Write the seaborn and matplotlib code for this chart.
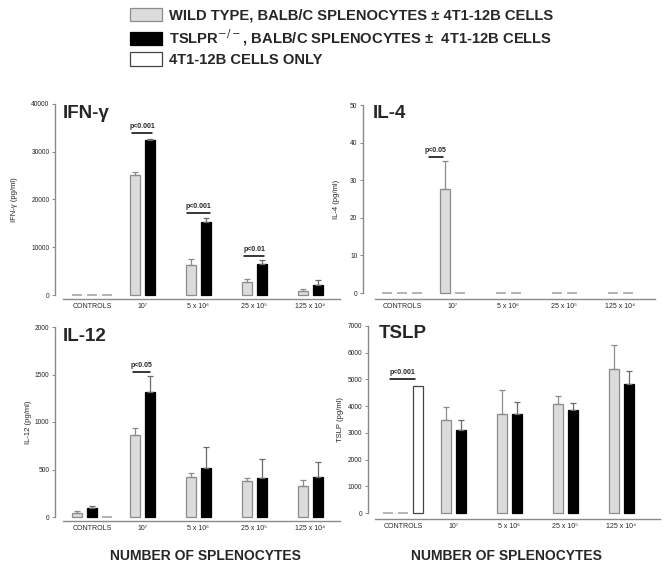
import matplotlib.pyplot as plt
import numpy as np
import pandas as pd
import seaborn as sns
from matplotlib.patches import Patch

W, H = 664, 571

GROUPS = ["CONTROLS", "10\u2077", "5 x 10\u2076", "25 x 10\u2075", "125 x 10\u2074"]
SERIES = ["wt", "ko", "tumor"]
LEGEND_LABELS = [
    "WILD TYPE, BALB/C SPLENOCYTES \u00b1 4T1-12B CELLS",
    "TSLPR$^{-/-}$, BALB/C SPLENOCYTES \u00b1  4T1-12B CELLS",
    "4T1-12B CELLS ONLY",
]

# means and upper error (pg/ml); controls group also has the "4T1 only" bar
ifn_wt = [0, 25130, 6280, 2650, 910]
ifn_wt_err = [0, 700, 1190, 630, 280]
ifn_ko = [0, 32460, 15360, 6490, 2090]
ifn_ko_err = [0, 280, 700, 840, 1050]
ifn_tumor = 0

il4_wt = [0, 27.7, 0, 0, 0]
il4_wt_err = [0, 7.5, 0, 0, 0]
il4_ko = [0, 0, 0, 0, 0]
il4_ko_err = [0, 0, 0, 0, 0]
il4_tumor = 0

il12_wt = [46, 863, 423, 377, 327]
il12_wt_err = [14, 77, 42, 38, 60]
il12_ko = [95, 1313, 521, 412, 423]
il12_ko_err = [18, 176, 211, 194, 158]
il12_tumor = 0

tslp_wt = [0, 3469, 3719, 4094, 5404]
tslp_wt_err = [0, 499, 873, 274, 873]
tslp_ko = [0, 3095, 3694, 3844, 4817]
tslp_ko_err = [0, 399, 462, 275, 487]
tslp_tumor = 4742

CENTERS = [0, 0.9, 1.9, 2.9, 3.9]

# significance bars: (x0, x1, y, label)
ifn_sig = [
    (CENTERS[1] - 0.18, CENTERS[1] + 0.18, 33900, "p<0.001"),
    (CENTERS[2] - 0.2, CENTERS[2] + 0.2, 17200, "p<0.001"),
    (CENTERS[3] - 0.18, CENTERS[3] + 0.18, 8200, "p<0.01"),
]
il4_sig = [(CENTERS[1] - 0.42, CENTERS[1] - 0.17, 36.2, "p<0.05")]
il12_sig = [(CENTERS[1] - 0.16, CENTERS[1] + 0.14, 1526, "p<0.05")]
tslp_sig = [(CENTERS[0] - 0.23, CENTERS[0] + 0.22, 5016, "p<0.001")]

PALETTE = {"wt": "#dcdcdc", "ko": "#000000", "tumor": "#ffffff"}
EDGES = {"wt": "#8c8c8c", "ko": "#000000", "tumor": "#444444"}
ERRC = {"wt": "#8c8c8c", "ko": "#6a6a6a", "tumor": "#444444"}
AXC = "#8a8a8a"


def panel_frame(wt, wt_err, ko, ko_err, tumor):
    rows = []
    for i, c in enumerate(CENTERS):
        dw, dk = (-0.27, 0.0) if i == 0 else (-0.135, 0.135)
        rows.append((round(c + dw, 4), wt[i], wt_err[i], "wt"))
        rows.append((round(c + dk, 4), ko[i], ko_err[i], "ko"))
    rows.append((round(CENTERS[0] + 0.27, 4), tumor, 0, "tumor"))
    return pd.DataFrame(rows, columns=["pos", "value", "err", "series"])


sns.set_style("ticks")
plt.rcParams["font.family"] = ["Liberation Sans", "DejaVu Sans"]

fig = plt.figure(figsize=(W / 100, H / 100), dpi=100)


def draw_panel(box, center_px, off_l, off_b, df, ymax, ystep, title, title_xy, ylabel, ylabel_px, sig):
    left, right, top, bottom = box
    ax = fig.add_axes([left / W, 1 - bottom / H, (right - left) / W, (bottom - top) / H])
    sns.barplot(
        data=df, x="pos", y="value", hue="series", hue_order=SERIES, palette=PALETTE,
        native_scale=True, dodge=False, width=0.66, saturation=1, errorbar=None,
        legend=False, linewidth=0.9, ax=ax,
    )
    for p in ax.patches:
        x = p.get_x() + p.get_width() / 2
        s = df.loc[(df["pos"] - x).abs().idxmin(), "series"]
        p.set_edgecolor(EDGES[s])
        if p.get_height() == 0:
            # empty bars show up as short grey dashes on the baseline
            p.set_edgecolor("#a0a0a0")
            p.set_linewidth(1.1)
        p.set_clip_on(False)
    for s in SERIES:
        sub = df[(df["series"] == s) & (df["err"] > 0)]
        if len(sub):
            ax.errorbar(
                sub["pos"], sub["value"], yerr=[np.zeros(len(sub)), sub["err"]],
                fmt="none", ecolor=ERRC[s], elinewidth=0.9, capsize=2, capthick=0.9, zorder=1,
            )
    for x0, x1, y, lab in sig:
        ax.plot([x0, x1], [y, y], color="black", lw=1.1, clip_on=False)
        ax.annotate(lab, ((x0 + x1) / 2, y), xytext=(0, 2), textcoords="offset points",
                    ha="center", va="bottom", fontsize=5, fontweight="bold")
    ax.set_xlim((left - center_px) / 56, (right - center_px) / 56)
    ax.set_ylim(0, ymax)
    ax.set_yticks(np.arange(0, ymax + 1, ystep))
    ax.set_xticks(CENTERS)
    ax.set_xticklabels(GROUPS, fontweight="bold")
    ax.set_xlabel("")
    ax.set_ylabel(ylabel, fontsize=5.5)
    ax.yaxis.set_label_coords((ylabel_px + 3.5 - left) / (right - left), 0.5)
    sns.despine(ax=ax)
    ax.spines["left"].set_position(("outward", off_l * 0.72))
    ax.spines["bottom"].set_position(("outward", off_b * 0.72))
    for sp in ("left", "bottom"):
        ax.spines[sp].set_color(AXC)
        ax.spines[sp].set_linewidth(1.0)
    ax.tick_params(axis="y", labelsize=4.8, length=2.5, width=0.7, color=AXC, pad=1.5)
    ax.tick_params(axis="x", labelsize=5, length=0, pad=3)
    fig.text(title_xy[0] / W, 1 - title_xy[1] / H, title, fontsize=13.5,
             fontweight="bold", va="top", ha="left")
    return ax


draw_panel((63, 340, 104, 295), 92, 8, 4,
           panel_frame(ifn_wt, ifn_wt_err, ifn_ko, ifn_ko_err, ifn_tumor),
           40000, 10000, "IFN-\u03b3", (63, 105), "IFN-\u03b3 (pg/ml)", 15, ifn_sig)
draw_panel((375, 655, 105, 293), 402, 12, 6,
           panel_frame(il4_wt, il4_wt_err, il4_ko, il4_ko_err, il4_tumor),
           50, 10, "IL-4", (373, 105), "IL-4 (pg/ml)", 337, il4_sig)
draw_panel((63, 340, 327, 517), 92, 8, 4,
           panel_frame(il12_wt, il12_wt_err, il12_ko, il12_ko_err, il12_tumor),
           2000, 500, "IL-12", (63, 328), "IL-12 (pg/ml)", 29, il12_sig)
draw_panel((375, 660, 326, 513), 403, 7, 6,
           panel_frame(tslp_wt, tslp_wt_err, tslp_ko, tslp_ko_err, tslp_tumor),
           7000, 1000, "TSLP", (379, 325), "TSLP (pg/ml)", 341, tslp_sig)

for xc in (205, 506):
    fig.text(xc / W, 1 - 556 / H, "NUMBER OF SPLENOCYTES", fontsize=10,
             fontweight="bold", ha="center", va="center")

handles = [Patch(facecolor=PALETTE[s], edgecolor=EDGES[s], linewidth=0.9) for s in SERIES]
leg = fig.legend(
    handles, LEGEND_LABELS, loc="upper left", bbox_to_anchor=(130 / W, 1 - 8 / H),
    frameon=False, fontsize=10.6, handlelength=2.15, handleheight=1.02,
    handletextpad=0.5, labelspacing=0.3, borderpad=0, borderaxespad=0,
)
for t in leg.get_texts():
    t.set_fontweight("bold")

fig.savefig("out.png", dpi=100)
